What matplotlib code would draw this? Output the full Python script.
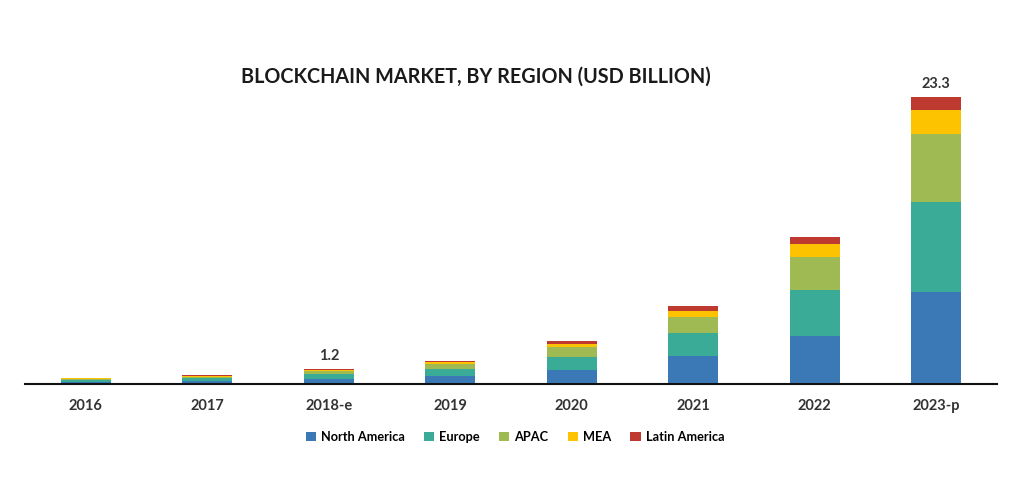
import matplotlib.pyplot as plt
import numpy as np

years = ["2016", "2017", "2018-e", "2019", "2020", "2021", "2022", "2023-p"]
regions = ["North America", "Europe", "APAC", "MEA", "Latin America"]
north_america = [0.18, 0.25, 0.42, 0.65, 1.14, 2.27, 3.90, 7.47]
europe = [0.15, 0.20, 0.36, 0.55, 1.05, 1.87, 3.73, 7.30]
apac = [0.10, 0.15, 0.25, 0.40, 0.80, 1.30, 2.68, 5.50]
mea = [0.04, 0.06, 0.10, 0.15, 0.25, 0.49, 1.05, 1.95]
latin_america = [0.03, 0.04, 0.07, 0.13, 0.22, 0.40, 0.57, 1.08]
labels = {2: "1.2", 7: "23.3"}

colors = ["#3a79b6", "#3aab96", "#9fb953", "#fdc300", "#be3a31"]

plt.rcParams['font.family'] = ['Lato', 'DejaVu Sans']

fig = plt.figure(figsize=(10.24, 4.79), dpi=100)
ax = fig.add_axes([25/1024, 95/479, 972/1024, 324/479])

x = np.arange(len(years))
bottom = np.zeros(len(years))
series = [north_america, europe, apac, mea, latin_america]
for vals, name, c in zip(series, regions, colors):
    ax.bar(x, vals, width=0.41, bottom=bottom, color=c, label=name)
    bottom += np.array(vals)

for i, t in labels.items():
    ax.text(x[i], bottom[i] + 0.5, t, ha="center", va="bottom",
            fontsize=10.5, fontweight="bold", color="#333333")

ax.set_xlim(-0.5, 7.5)
ax.set_ylim(0, 26.3)
ax.set_xticks(x)
ax.set_xticklabels(years, fontsize=10.5, fontweight="bold", color="#333333")
ax.tick_params(axis="x", length=0, pad=11)
ax.set_yticks([])
for s in ["top", "right", "left"]:
    ax.spines[s].set_visible(False)
ax.spines["bottom"].set_linewidth(1.5)
ax.spines["bottom"].set_color("#111111")

fig.text(476/1024, 1 - 77/479, "BLOCKCHAIN MARKET, BY REGION (USD BILLION)",
         ha="center", va="center", fontsize=14.2, fontweight="bold", color="#1a1a1a")

fig.legend(loc="center", bbox_to_anchor=(515/1024, 1 - 437/479), ncol=5,
           frameon=False, handlelength=0.8, handleheight=0.8,
           columnspacing=1.5, handletextpad=0.4,
           prop={"weight": "bold", "size": 9.2})

fig.savefig("out.png", dpi=100, facecolor="white")
